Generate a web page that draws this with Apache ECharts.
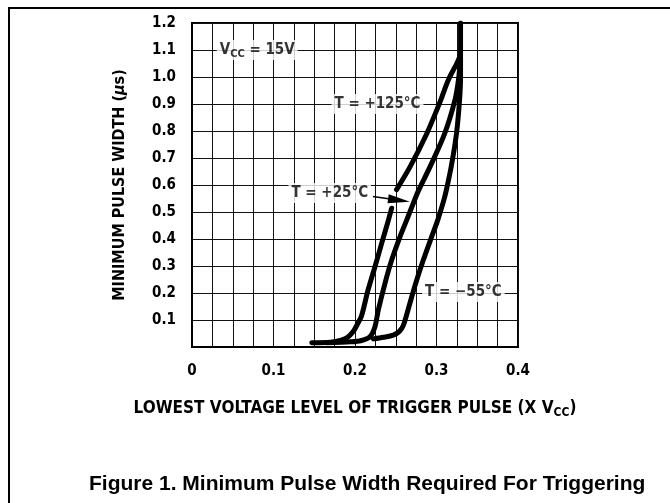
<!DOCTYPE html>
<html>
<head>
<meta charset="utf-8">
<script src="https://cdn.jsdelivr.net/npm/echarts@6/dist/echarts.min.js"></script>
<style>
  html, body { margin: 0; padding: 0; background: #fff; }
  #frame { position: absolute; left: 8px; top: 7px; width: 662px; height: 496px;
           border-left: 2px solid #000; border-top: 2px solid #000; box-sizing: border-box; }
  #chart { position: absolute; left: 0; top: 0; width: 670px; height: 503px; }
</style>
</head>
<body>
<div id="frame"></div>
<div id="chart"></div>
<script>
// curve points: [trigger level (x Vcc), min pulse width (us)]
var t125Lower = [[0.147,0.016],[0.170,0.018],[0.182,0.024],[0.191,0.036],[0.198,0.058],[0.203,0.085],
                 [0.208,0.115],[0.216,0.211],[0.2245,0.297],[0.2327,0.384],[0.241,0.47],[0.245,0.514]];
var t125Upper = [[0.251,0.583],[0.2675,0.667],[0.288,0.79],[0.304,0.905],[0.3145,0.989],
                 [0.3247,1.049],[0.3292,1.08]];
var t25 = [[0.165,0.016],[0.195,0.019],[0.208,0.024],[0.2184,0.038],[0.2245,0.075],[0.2286,0.137],
           [0.2368,0.236],[0.245,0.322],[0.2552,0.408],[0.2634,0.47],[0.2715,0.532],[0.278,0.58],
           [0.292,0.667],[0.31,0.79],[0.3227,0.915],[0.327,0.99],[0.3292,1.06]];
var tMinus55 = [[0.2225,0.03],[0.235,0.036],[0.247,0.044],[0.2545,0.058],[0.2593,0.08],[0.265,0.137],
                [0.2745,0.236],[0.2838,0.322],[0.294,0.408],[0.3015,0.47],[0.309,0.544],[0.312,0.58],
                [0.318,0.667],[0.3245,0.79],[0.3283,0.915],[0.3295,1.0],[0.3295,1.2]];

// annotations placed in data space: [x, y]
var notes = [
  { value: [0.080, 1.10], text: '{b|V}{s|CC}{b| = 15V}' },
  { value: [0.2276, 0.90], text: '{b|T = +125°C}' },
  { value: [0.169, 0.57], text: '{b|T = +25°C}' },
  { value: [0.333, 0.204], text: '{b|T = \u221255°C}' }
];
// arrow from the +25 label; the end point is the centre of the arrow head
var arrowFrom = [0.222, 0.557];
var arrowTo = [0.254, 0.5437];

var xMin = 0, xMax = 0.4, xStep = 0.025;
var yMin = 0, yMax = 1.2, yStep = 0.1;

var condFont = '"DejaVu Sans Condensed", "DejaVu Sans", sans-serif';

function curve(data, extra) {
  var s = {
    type: 'line',
    data: data,
    smooth: 0.3,
    showSymbol: false,
    symbol: 'none',
    lineStyle: { color: '#000', width: 5, cap: 'round', join: 'round' },
    z: 5
  };
  for (var k in extra) s[k] = extra[k];
  return s;
}

var chart = echarts.init(document.getElementById('chart'), null, { renderer: 'canvas' });

var option = {
  animation: false,
  backgroundColor: 'transparent',
  grid: {
    left: 192, top: 23, right: 152, bottom: 156,
    show: true, borderColor: '#000', borderWidth: 2, backgroundColor: 'transparent'
  },
  xAxis: {
    type: 'value',
    min: xMin, max: xMax, interval: xStep,
    axisLine: { show: true, onZero: false, lineStyle: { color: '#000', width: 2 } },
    axisTick: { show: false },
    splitLine: { show: true, lineStyle: { color: '#111', width: 1 } },
    axisLabel: {
      margin: 17,
      color: '#000', fontFamily: condFont, fontWeight: 'bold', fontSize: 15,
      formatter: function (v) {
        var t = v * 10;
        if (Math.abs(t - Math.round(t)) > 1e-6) return '';
        return v === 0 ? '0' : v.toFixed(1);
      }
    },
    name: '{n|LOWEST VOLTAGE LEVEL OF TRIGGER PULSE (X V}{s|CC}{n|)}',
    nameLocation: 'middle',
    nameGap: 51,
    nameTextStyle: {
      rich: {
        n: { fontFamily: condFont, fontWeight: 'bold', fontSize: 17, color: '#000', lineHeight: 22 },
        s: { fontFamily: condFont, fontWeight: 'bold', fontSize: 12, color: '#000', lineHeight: 22, padding: [8, 0, 0, 0] }
      }
    }
  },
  yAxis: {
    type: 'value',
    min: yMin, max: yMax, interval: yStep,
    axisLine: { show: true, lineStyle: { color: '#000', width: 2 } },
    axisTick: { show: false },
    splitLine: { show: true, lineStyle: { color: '#111', width: 1 } },
    axisLabel: {
      margin: 16,
      color: '#000', fontFamily: condFont, fontWeight: 'bold', fontSize: 15,
      formatter: function (v) { return v === 0 ? '' : v.toFixed(1); }
    },
    name: '{n|MINIMUM PULSE WIDTH (}{i|\u00b5}{n|s)}',
    nameLocation: 'middle',
    nameRotate: 90,
    nameGap: 64,
    nameTextStyle: {
      rich: {
        n: { fontFamily: condFont, fontWeight: 'bold', fontSize: 16, color: '#000' },
        i: { fontFamily: condFont, fontWeight: 'bold', fontStyle: 'italic', fontSize: 16, color: '#000' }
      }
    }
  },
  graphic: [{
    type: 'text',
    left: 89, top: 474,
    style: {
      text: 'Figure 1. Minimum Pulse Width Required For Triggering',
      font: 'bold 21px "Liberation Sans", Arial, sans-serif',
      fill: '#000'
    }
  }],
  series: [
    curve(t125Lower),
    curve(t125Upper),
    curve(t25, {
      markLine: {
        silent: true,
        label: { show: false },
        lineStyle: { color: '#000', width: 1.5, type: 'solid' },
        data: [[
          { coord: arrowFrom, symbol: 'none' },
          { coord: arrowTo, symbol: 'path://M5,0 L10,22 L0,22 Z', symbolSize: [9, 22] }
        ]]
      }
    }),
    curve(tMinus55),
    {
      type: 'scatter',
      symbolSize: 0,
      z: 6,
      data: notes.map(function (n) { return { value: n.value, text: n.text }; }),
      label: {
        show: true,
        position: 'inside',
        backgroundColor: '#fff',
        padding: [0, 3],
        formatter: function (p) { return p.data.text; },
        rich: {
          b: { fontFamily: condFont, fontWeight: 'bold', fontSize: 15, color: '#000', lineHeight: 20 },
          s: { fontFamily: condFont, fontWeight: 'bold', fontSize: 11, color: '#000', lineHeight: 20, padding: [8, 0, 0, 0] }
        }
      }
    }
  ]
};

chart.setOption(option);
</script>
</body>
</html>
